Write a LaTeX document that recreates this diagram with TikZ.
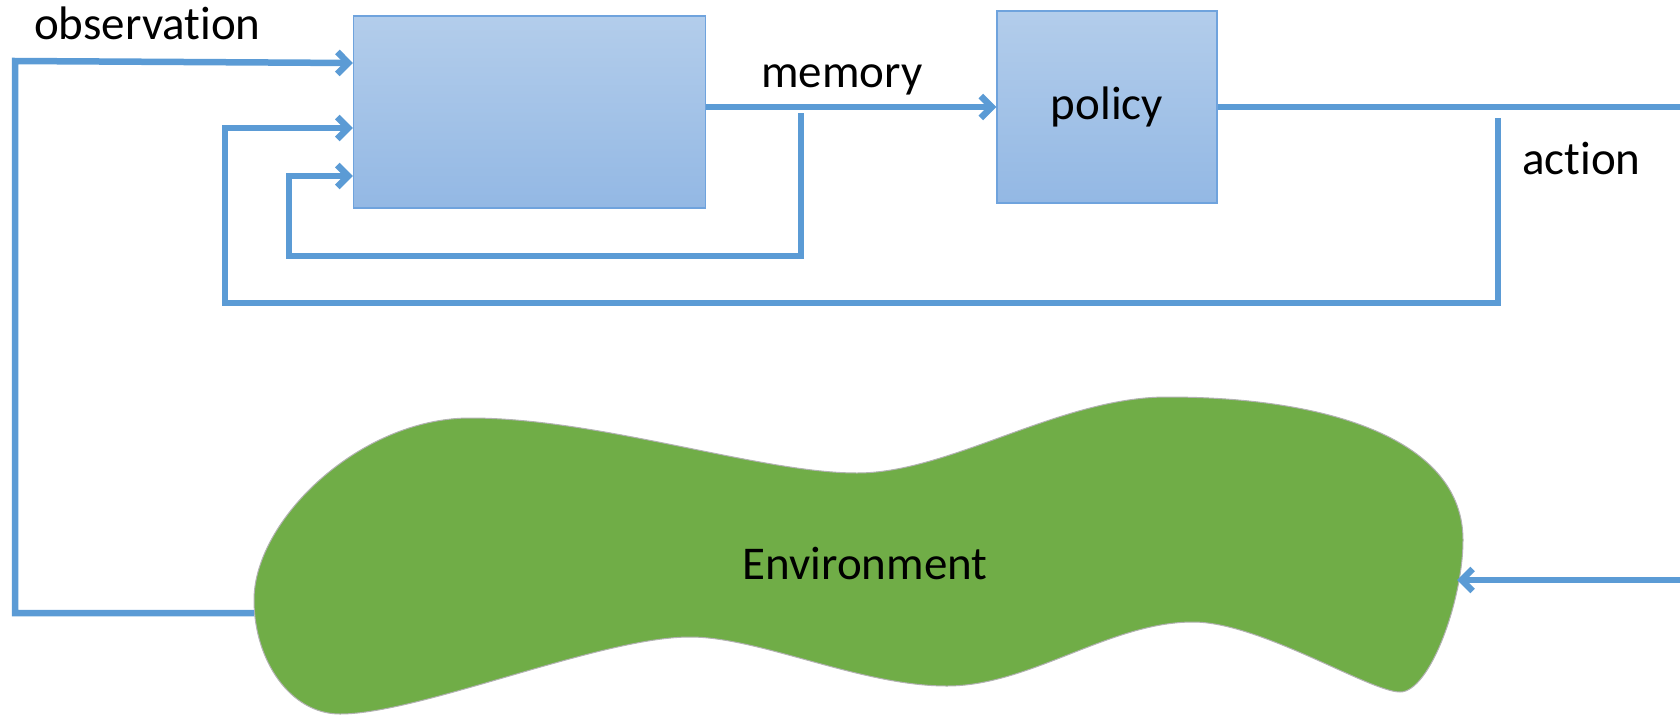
\documentclass[tikz,border=0pt]{standalone}
\usepackage{fontspec}
\setmainfont{Carlito}[Ligatures=NoCommon]
\usetikzlibrary{arrows.meta}
\definecolor{linkblue}{HTML}{5B9BD5}
\definecolor{boxtop}{HTML}{B3CDEB}
\definecolor{boxbot}{HTML}{93B8E4}
\definecolor{boxline}{HTML}{6FA3DD}
\definecolor{envgreen}{HTML}{70AD47}
\tikzset{flowline/.style={draw=linkblue,line width=6.5pt}}

\begin{document}
\begin{tikzpicture}[x=1pt,y=-1pt,
    >={Straight Barb[length=11pt,width=22pt]},
    txt/.style={inner sep=0pt,font=\fontsize{47}{56}\selectfont}]
\useasboundingbox (0,0) rectangle (1680,715);

% environment
\filldraw[fill=envgreen,draw=gray!60,line width=1pt]
    (254,600) .. controls (254,520) and (360,418) .. (470,418)
    .. controls (600,418) and (760,473) .. (857,473)
    .. controls (950,473) and (1060,397) .. (1167,397)
    .. controls (1330,397) and (1463,440) .. (1463,540)
    .. controls (1463,600) and (1430,692) .. (1400,692)
    .. controls (1370,692) and (1260,622) .. (1193,622)
    .. controls (1110,622) and (1030,686) .. (947,686)
    .. controls (860,686) and (760,637) .. (690,637)
    .. controls (600,637) and (420,714) .. (340,714)
    .. controls (290,714) and (254,660) .. cycle;
\node[txt] (envLabel) at (865,563) {Environment};

\begin{scope}[every node/.style={draw=boxline,line width=1.2pt,
              top color=boxtop,bottom color=boxbot,
              inner sep=0pt,minimum height=192pt}]
    \node[minimum width=352pt] (M) at (529.5,112) {};
    \node[minimum width=220pt,font=\fontsize{47}{56}\selectfont] (P) at (1107,107) {policy};
\end{scope}

\coordinate (obsCorner) at (15,61);
\coordinate (envL) at (254,613);
\coordinate (envR) at (1457,580);
\coordinate (actOut) at (1680,107);
\coordinate (actIn) at (1680,580);
\coordinate (memTap) at (801,113);
\coordinate (memLoop) at (289,256);
\coordinate (actTap) at (1498,118);
\coordinate (actLoop) at (225,303);

\draw[flowline,->] (envL) -| (obsCorner) -- ([yshift=49pt]M.west);
\draw[flowline,->] (actTap) |- (actLoop) |- ([yshift=-16pt]M.west);
\draw[flowline,->] (memTap) |- (memLoop) |- ([yshift=-64pt]M.west);
\draw[flowline,->] (M.east |- P.west) -- (P.west);
\draw[flowline] (P.east) -- (actOut);
\draw[flowline,->] (actIn) -- (envR);

\node[txt,anchor=base west] (obsLabel) at (34,39) {observation};
\node[txt,anchor=base west] (memLabel) at (761,87) {memory};
\node[txt,anchor=base west] (actLabel) at (1522,174) {action};
\end{tikzpicture}
\end{document}
